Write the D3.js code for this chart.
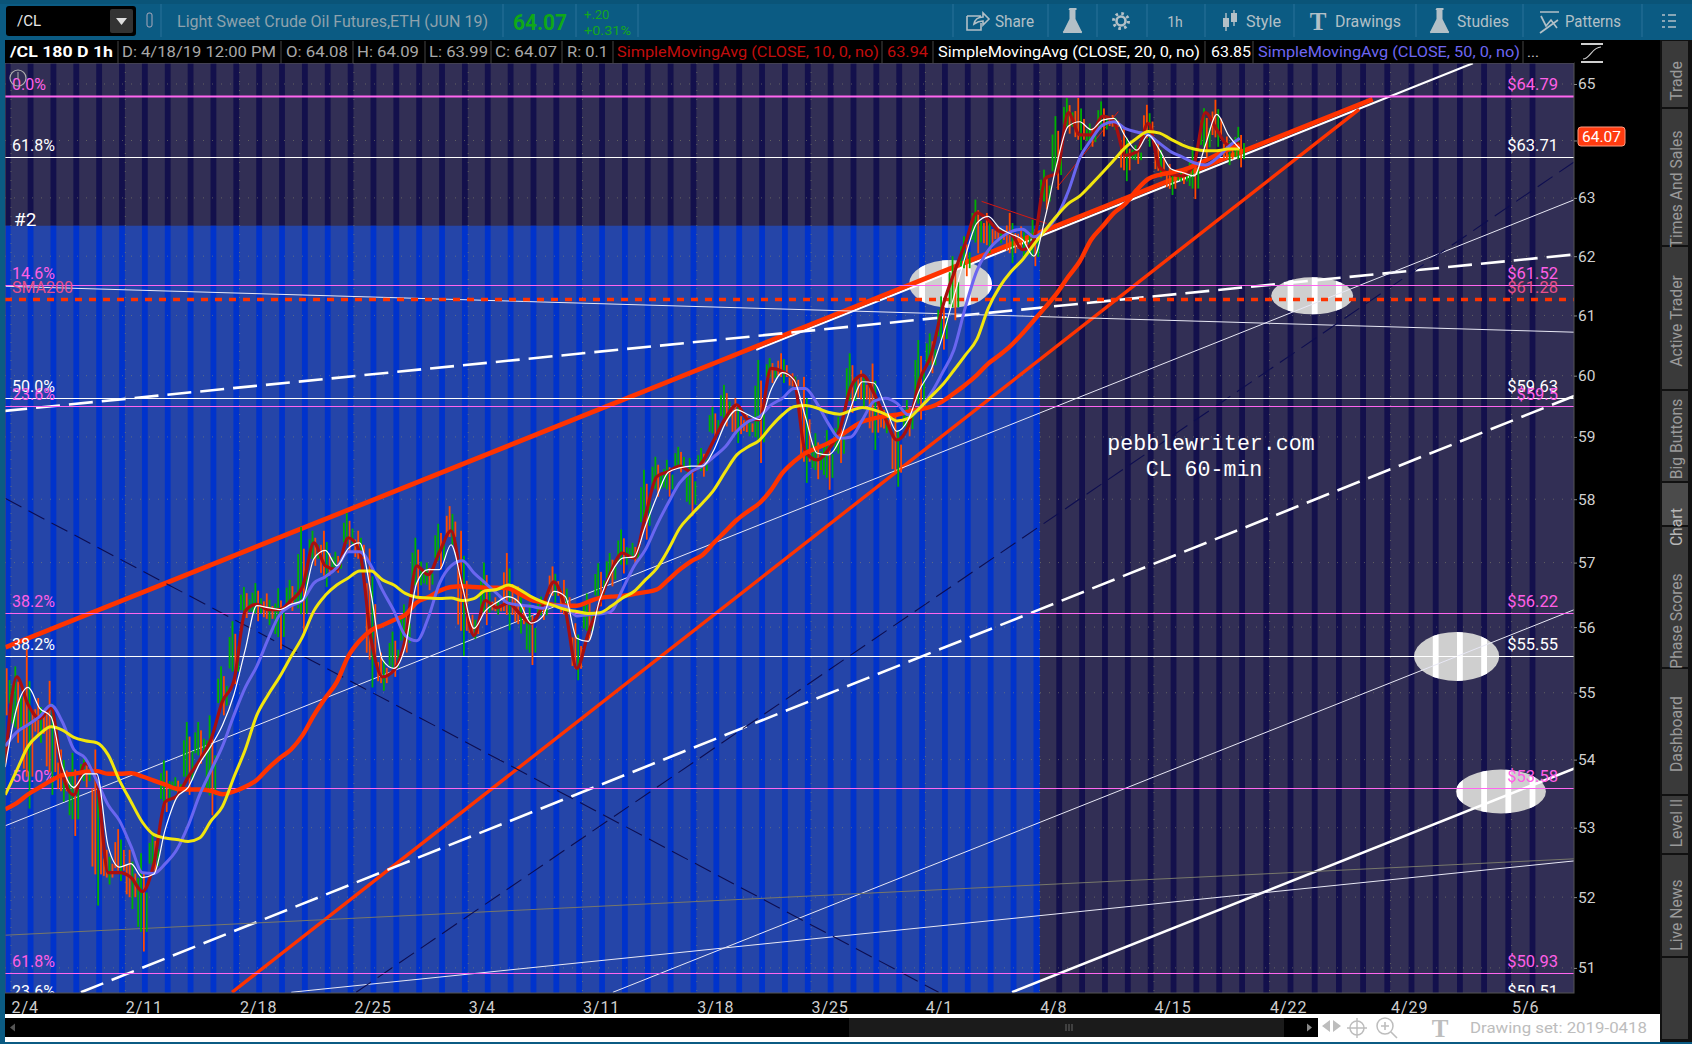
<!DOCTYPE html>
<html><head><meta charset="utf-8">
<script src="https://cdn.jsdelivr.net/npm/d3@7/dist/d3.min.js"></script>
<style>html,body{margin:0;padding:0;background:#000;overflow:hidden}svg{display:block}text{font-family:Roboto,"Open Sans",sans-serif}</style>
</head><body><div id="c"></div>
<script>
// ---------- data (half-session samples) ----------
const dateTicks=["2/4","2/11","2/18","2/25","3/4","3/11","3/18","3/25","4/1","4/8","4/15","4/22","4/29","5/6"];
const priceTicks=[51,52,53,54,55,56,57,58,59,60,61,62,63,64,65];
const levelPrices=[64.79,63.71,61.52,61.28,59.63,59.5,56.22,55.55,53.58,50.93,50.51];
const levelNames=["0.0%","61.8%","14.6%","SMA200","50.0%","23.6%","38.2%","38.2%","50.0%","61.8%","23.6%"];
const levelKinds=["m","w","m","r","w","m","m","w","m","m","w"];
const levelRight=["$64.79","$63.71","$61.52","$61.28","$59.63","$59.5","$56.22","$55.55","$53.58","$50.93","$50.51"];

const barHigh=[55.55,55.4,55.66,54.92,55.18,54.15,54.1,54.05,54.15,52.68,52.98,52.68,52.63,52.93,53.99,53.74,54.56,54.56,54.66,55.4,56.09,56.62,56.68,56.52,56.6,56.73,57.56,57.5,57.5,57.17,57.78,57.5,57.22,55.61,55.93,56.35,57.39,57,57.61,57.89,57.5,56.19,57,56.46,
57.15,56.63,56.37,56.47,56.94,56.73,56.06,56.52,56.99,57.15,57.52,57.31,58.47,58.68,58.63,58.84,58.66,58.82,59.49,59.85,59.63,59.36,60.26,60.29,60.37,60.04,59.98,59.06,59.11,59.33,60.37,60.09,60.2,59.44,59.33,59.6,60.59,60.7,
61.32,62,62.34,62.97,62.74,62.51,62.74,62.51,62.62,63.49,64.43,64.75,64.75,64.3,64.69,64.45,64.24,63.92,64.63,63.95,63.59,63.47,63.89,64.57,64.72,64.07,64.24];
const barLow=[54.66,54.25,53.28,54.25,53.48,53.38,52.88,53.59,51.88,52.18,52.23,51.83,51.23,52.33,53.23,53.48,53.48,53.94,53.18,54.66,55.13,56.14,56.09,56.03,55.66,56.25,55.87,56.95,56.62,56.84,57.17,56.95,55.08,55.03,55.24,55.61,56.46,56.57,56.89,57.28,55.56,55.82,56.03,56.19,
55.95,55.9,55.42,56.11,56.37,56.06,55.19,55.8,56.32,56.63,56.83,56.99,57.36,58.04,58.04,58.43,57.73,58.36,58.95,59.17,58.9,59.01,58.58,59.88,59.88,59.77,58.26,58.32,58.15,58.58,59.39,59.49,58.79,59.06,58.2,59.01,59.28,60.04,
60.43,60.92,61.66,62.05,62.05,62.22,61.88,62,61.83,62.8,63.14,64.12,63.83,63.89,64.07,64.19,63.29,63.59,63.89,63.35,63.05,63.24,62.98,63.71,63.89,63.57,63.53];

const smaDarkRed=[53.95,55.24,54.82,54.61,54.77,53.79,53.48,53.94,53.69,52.35,52.35,52.28,52.08,52.48,53.38,53.46,53.74,53.99,54.3,54.87,55.18,56.25,56.35,56.27,56.27,56.41,56.62,57.31,56.95,56.89,57.39,57.17,55.82,55.24,55.34,55.82,56.95,56.81,57.17,57.5,56.62,55.87,56.41,56.3,
56.37,56.21,56.06,56.32,56.7,56.26,55.37,55.9,56.37,56.86,57.15,57.07,57.73,58.36,58.44,58.53,58.44,58.6,58.95,59.3,59.52,59.28,59.28,60.12,60.07,59.93,58.76,58.63,58.79,59.11,59.82,60.01,59.71,59.3,58.95,59.17,59.93,60.34,
61.14,61.71,62.22,62.74,62.62,62.42,62.38,62.11,62.28,63.34,63.43,64.49,64.1,64.1,64.43,64.33,63.74,63.8,64.3,63.53,63.41,63.38,63.59,64.49,64.19,63.92,63.95];
const smaWhite=[53.89,54.77,55.08,54.77,54.64,53.89,53.59,53.79,53.79,52.73,52.43,52.48,52.28,52.33,52.98,53.44,53.59,53.94,54.2,54.51,54.97,55.66,56.33,56.3,56.27,56.35,56.41,57.06,57.19,56.95,57.22,57.31,56.52,55.5,55.37,55.71,56.68,56.89,56.89,57.28,56.62,55.98,56.25,56.38,
56.47,56.37,56.06,56.16,56.55,56.47,55.83,55.78,56.42,56.83,57.07,57.09,57.57,58.04,58.43,58.5,58.53,58.53,58.79,59.22,59.44,59.36,59.28,59.77,60.05,59.93,59.33,58.74,58.71,58.95,59.49,59.9,59.88,59.49,59.09,59.28,59.77,60.1,
60.65,61.32,62,62.56,62.68,62.48,62.38,62.28,62,62.68,63.59,64.25,64.33,64.19,64.36,64.39,64.07,63.83,64.1,63.83,63.5,63.44,63.38,63.92,64.46,64.1,63.86];
const smaPurple=[54.2,54.41,54.52,54.64,54.81,54.56,54.15,54.02,53.69,53.33,53.1,52.73,52.35,52.34,52.48,52.68,53.03,53.48,53.84,54.2,54.66,55.08,55.4,55.82,56.19,56.33,56.41,56.68,56.78,56.92,57.17,57.17,56.95,56.57,56.25,55.87,55.79,56.14,56.68,56.95,57.03,56.84,56.68,56.52,
56.37,56.34,56.32,56.29,56.34,56.32,56.17,56.19,56.2,56.24,56.58,56.94,57.2,57.59,57.94,58.26,58.44,58.53,58.68,58.84,59.09,59.25,59.33,59.52,59.63,59.79,59.79,59.55,59.22,58.98,59,59.28,59.58,59.63,59.55,59.36,59.47,59.71,
60.05,60.43,61.14,61.75,62.1,62.3,62.42,62.46,62.33,62.45,62.68,63.11,63.69,64.01,64.27,64.33,64.21,64.15,64.1,63.95,63.8,63.71,63.61,63.57,63.69,63.89,64.04];
const smaYellow=[53.48,53.84,54.2,54.38,54.49,54.44,54.33,54.28,54.25,54.07,53.69,53.38,53.08,52.9,52.85,52.83,52.8,52.85,53.1,53.31,53.74,54.15,54.66,54.97,55.24,55.55,55.85,56.25,56.49,56.65,56.76,56.87,56.87,56.73,56.65,56.52,56.46,56.45,56.44,56.45,56.41,56.44,56.56,56.58,
56.65,56.58,56.47,56.39,56.33,56.27,56.24,56.21,56.22,56.32,56.45,56.55,56.73,56.91,57.2,57.54,57.75,57.94,58.15,58.44,58.71,58.84,58.95,59.17,59.36,59.49,59.51,59.47,59.4,59.37,59.43,59.48,59.44,59.37,59.26,59.3,59.47,59.66,
59.85,60.09,60.34,60.6,61.12,61.48,61.74,61.94,62.2,62.45,62.69,62.9,63.03,63.23,63.44,63.66,63.88,64.04,64.16,64.13,64.02,63.92,63.85,63.82,63.82,63.85,63.85];
const smaSlowRed=[53.27,53.36,53.49,53.59,53.69,53.77,53.79,53.82,53.83,53.79,53.79,53.8,53.75,53.69,53.63,53.57,53.56,53.56,53.54,53.49,53.53,53.6,53.7,53.87,54.02,54.15,54.36,54.66,54.92,55.16,55.55,55.79,55.95,56.03,56.11,56.19,56.38,56.46,56.56,56.62,56.63,56.62,56.61,56.61,
56.6,56.51,56.42,56.38,56.34,56.33,56.33,56.39,56.45,56.47,56.48,56.51,56.54,56.58,56.73,56.89,57.02,57.12,57.31,57.49,57.67,57.81,57.94,58.15,58.42,58.6,58.74,58.82,58.9,59.01,59.14,59.25,59.3,59.34,59.36,59.41,59.45,59.49,
59.58,59.71,59.85,60.01,60.2,60.34,60.5,60.7,60.92,61.14,61.37,61.65,61.91,62.28,62.51,62.74,62.9,63.14,63.33,63.4,63.44,63.48,63.56,63.65,63.75,63.84,63.92];

// trend lines: session/price end points
const trendFrom=[[32.6,60.43],[-0.24,55.69],[9.67,50.66],[-0.34,59.42],[3.06,50.66],[-0.24,53.03],[26.33,50.66],[43.79,50.66],[-0.24,61.49],[12.26,50.66],[-0.24,51.46],[-0.24,58.01],[15.1,50.66],[42.46,62.94],[45.74,63.17]];
const trendTo=[[63.4,65.37],[59.26,64.73],[58.7,64.55],[67.6,62.03],[67.6,59.67],[67.6,62.97],[67.6,56.27],[67.6,53.87],[67.6,60.72],[67.6,52.52],[67.6,52.55],[40.58,50.66],[67.6,63.63],[45.3,62.56],[48.44,64.51]];
const trendKinds=["white","red","redThin","dash","dash","thin","thin","thick","thin","thin","grey","navy","navy","hair","hair"];

const ovalCentres=[[41.1,61.53],[56.76,61.33],[62.73,55.55],[64.56,53.53]];
const sideTabs=["Trade","Times And Sales","Active Trader","Big Buttons","Chart","Phase Scores","Dashboard","Level II","Live News"];

// ---------- scales ----------
const W=1692,H=1044,L=5,R=1574,T=63,B=993;
const x=d3.scaleLinear().domain([0,54,68]).range([11,1245.4,1584.2]);
const y=d3.scaleLog().domain([65,51]).range([84,967.9]);
const sess=i=>i*0.5-0.25;
const svg=d3.select("#c").append("svg").attr("width",W).attr("height",H).attr("viewBox",`0 0 ${W} ${H}`);
const defs=svg.append("defs");
defs.append("clipPath").attr("id","plot").append("rect").attr("x",L).attr("y",T).attr("width",R-L).attr("height",B-T);
const rect=(g,a,b,w,h,f)=>g.append("rect").attr("x",a).attr("y",b).attr("width",w).attr("height",h).attr("fill",f);
const txt=(g,a,b,s,c,fs,o={})=>{const t=g.append("text").attr("x",a).attr("y",b).text(s).attr("fill",c).attr("font-size",fs);
  if(o.w)t.attr("textLength",o.w).attr("lengthAdjust","spacingAndGlyphs");if(o.anchor)t.attr("text-anchor",o.anchor);if(o.bold)t.attr("font-weight",700);if(o.family)t.style("font-family",o.family);return t;};

rect(svg,0,0,W,H,"#000");
// ---------- plot ----------
const plot=svg.append("g").attr("clip-path","url(#plot)");
rect(plot,L,T,R-L,B-T,"#322f55");
const stripeIdx=d3.range(0,67);
plot.selectAll(".st").data(stripeIdx).join("rect").attr("x",k=>x(k)-6.2).attr("y",T).attr("width",5.8).attr("height",B-T).attr("fill","#13104c");
const blueEnd=x(45),blueTop=y(62.52);
rect(plot,L,blueTop,blueEnd-L,B-blueTop,"#2545a8");
plot.selectAll(".sb").data(stripeIdx.filter(k=>k<45)).join("rect").attr("x",k=>x(k)-6.2).attr("y",blueTop).attr("width",5.8).attr("height",B-blueTop).attr("fill","#0033cc");
plot.append("rect").attr("x",x(45)-6.2).attr("y",blueTop).attr("width",6.2).attr("height",B-blueTop).attr("fill","#0033cc");

// dotted grid
plot.selectAll(".gh").data(priceTicks).join("line").attr("x1",L).attr("x2",R).attr("y1",d=>y(d)).attr("y2",d=>y(d)).attr("stroke","#8a8a70").attr("stroke-width",1).attr("stroke-dasharray","1 8").attr("opacity",.55);
plot.selectAll(".gv").data(dateTicks).join("line").attr("x1",(d,i)=>x(i*5)).attr("x2",(d,i)=>x(i*5)).attr("y1",T).attr("y2",B).attr("stroke","#8a8a70").attr("stroke-dasharray","1 8").attr("opacity",.55);

// ovals
const ovalR=[[41.5,24],[41,18.5],[42.5,24.5],[45,22]];
ovalCentres.forEach((c,i)=>{
  const id="ov"+i,cx=x(c[0]),cy=y(c[1]);
  defs.append("clipPath").attr("id",id).append("ellipse").attr("cx",cx).attr("cy",cy).attr("rx",ovalR[i][0]).attr("ry",ovalR[i][1]);
  plot.append("ellipse").attr("cx",cx).attr("cy",cy).attr("rx",ovalR[i][0]).attr("ry",ovalR[i][1]).attr("fill","#cfcfcf");
  plot.append("g").attr("clip-path",`url(#${id})`).selectAll("rect").data(stripeIdx).join("rect").attr("x",k=>x(k)-6.2).attr("y",cy-30).attr("width",5.8).attr("height",60).attr("fill","#fff");
});

// trend lines
const tStyle={red:["#ff3300",4.8,null],white:["#ffffff",2.2,null],redThin:["#ff3300",3.4,null],dash:["#ffffff",2.6,"24 9"],thin:["#e8e8f5",1,null],thick:["#ffffff",2.6,null],grey:["#77776a",1,null],navy:["#0d0d50",1.1,"18 8"],hair:["#d81a10",1,null]};
plot.selectAll(".tr").data(d3.range(trendKinds.length)).join("line")
 .attr("x1",i=>x(trendFrom[i][0])).attr("y1",i=>y(trendFrom[i][1])).attr("x2",i=>x(trendTo[i][0])).attr("y2",i=>y(trendTo[i][1]))
 .attr("stroke",i=>tStyle[trendKinds[i]][0]).attr("stroke-width",i=>tStyle[trendKinds[i]][1]).attr("stroke-dasharray",i=>tStyle[trendKinds[i]][2]);

// price levels
const lvCol={m:"#ff66f0",w:"#ffffff",r:"#ff3300"};
const txtCol={m:"#ff5fe6",w:"#ffffff",r:"#e8508a"};
plot.selectAll(".lv").data(levelPrices).join("line").attr("x1",L).attr("x2",R).attr("y1",d=>Math.round(y(d))+.5).attr("y2",d=>Math.round(y(d))+.5)
 .attr("stroke",(d,i)=>lvCol[levelKinds[i]]).attr("stroke-width",(d,i)=>i===0?2:levelKinds[i]==="r"?3.4:1).attr("stroke-dasharray",(d,i)=>levelKinds[i]==="r"?"7 7":null);
plot.selectAll(".ll").data(levelPrices).join("text").attr("x",12).attr("y",d=>y(d)-6).text((d,i)=>levelNames[i]).attr("fill",(d,i)=>txtCol[levelKinds[i]]).attr("font-size",16);
plot.selectAll(".lr").data(levelPrices).join("text").attr("x",1558).attr("y",d=>y(d)-6).attr("text-anchor","end").text((d,i)=>levelRight[i]).attr("fill",(d,i)=>txtCol[levelKinds[i]]).attr("font-size",16.5);
txt(plot,14,226,"#2","#fff",19);

// price bars: thin sticks per half session
const barIdx=d3.range(barHigh.length);
const isUp=i=>smaDarkRed[Math.min(i+1,smaDarkRed.length-1)]>=smaDarkRed[Math.max(i-1,0)];
const GREEN="#00b000",ORANGE="#ff4a00";
const sticks=[{o:-4.3,a:.25,b:.75,alt:false},{o:-1.4,a:0,b:.8,alt:false},{o:1.4,a:.2,b:1,alt:true},{o:4.3,a:.4,b:.8,alt:false}];
sticks.forEach(st=>{
  plot.selectAll(null).data(barIdx).join("rect").attr("x",i=>x(sess(i))+st.o-.9).attr("width",1.8)
   .attr("y",i=>{const t=y(barHigh[i]),b=y(barLow[i]);return t+(b-t)*st.a;})
   .attr("height",i=>{const t=y(barHigh[i]),b=y(barLow[i]);return (b-t)*(st.b-st.a);})
   .attr("fill",i=>(isUp(i)!==st.alt)?GREEN:ORANGE);
});

// moving averages
const maLine=d3.line().x((d,i)=>x(sess(i))).y(d=>y(d)).curve(d3.curveMonotoneX);
[[smaDarkRed,"#a80f0f",3.2],[smaSlowRed,"#ff3300",4.4],[smaPurple,"#6a66f0",3],[smaYellow,"#f2e60d",3],[smaWhite,"#ffffff",1.2]].forEach(([s,c,w])=>{
  plot.append("path").attr("d",maLine(s)).attr("fill","none").attr("stroke",c).attr("stroke-width",w).attr("stroke-linejoin","round");
});

// annotation
const mono='"Liberation Mono",monospace';
txt(plot,1211,450,"pebblewriter.com","#fff",21.6,{anchor:"middle",family:mono});
txt(plot,1204,476,"CL 60-min","#fff",21.6,{anchor:"middle",family:mono});
plot.append("circle").attr("cx",18).attr("cy",78).attr("r",8).attr("fill","none").attr("stroke","#b0b0b0").attr("stroke-width",1.2);
plot.append("line").attr("x1",18).attr("x2",18).attr("y1",72).attr("y2",79).attr("stroke","#b0b0b0");

// frame
svg.append("rect").attr("x",L).attr("y",T).attr("width",R-L).attr("height",B-T).attr("fill","none").attr("stroke","#555").attr("stroke-width",1);

// ---------- axes ----------
const axR=svg.append("g").attr("transform",`translate(${R},0)`).call(d3.axisRight(y).tickValues(priceTicks).tickFormat(d3.format("d")).tickSize(3));
axR.select(".domain").remove();
axR.selectAll("text").attr("fill","#d0d0d0").attr("font-size",15.5).attr("x",4).attr("text-anchor","start").style("font-family","Roboto");
axR.selectAll("line").attr("stroke","#888");
const axB=svg.append("g").attr("transform",`translate(0,${B})`).call(d3.axisBottom(x).tickValues(dateTicks.map((d,i)=>i*5)).tickFormat((d,i)=>dateTicks[i]).tickSize(0));
axB.select(".domain").remove();
axB.selectAll("text").attr("fill","#cfcfcf").attr("font-size",16).attr("letter-spacing","0.9px").attr("text-anchor","start").attr("y",6).attr("dy","0.85em").style("font-family","Roboto");

// price badge
svg.append("rect").attr("x",1578).attr("y",127).attr("width",47).attr("height",19).attr("rx",3).attr("fill","#ff3b10").attr("stroke","#ff9a80");
txt(svg,1601.5,142,"64.07","#fff",15.5,{anchor:"middle"});
// studies icon
const sg=svg.append("g").attr("stroke","#cfcfcf").attr("fill","none");
sg.append("path").attr("d","M1581 44h22M1581 62h22").attr("stroke-width",2.2);
sg.append("path").attr("d","M1583 59C1590 59 1592 47 1601 47").attr("stroke-width",1.2);

// ---------- toolbar ----------
const tb=svg.append("g");
rect(tb,0,0,W,40,"#0b5b83");
rect(tb,0,0,W,4,"#0a5478");
rect(svg,0,40,5,H-40,"#0b5b83");
rect(svg,0,H-2,W,2,"#0b5b83");
tb.append("rect").attr("x",6).attr("y",6).attr("width",130).attr("height",30).attr("rx",3).attr("fill","#000");
txt(tb,17,26,"/CL","#e8e8e8",15);
tb.append("rect").attr("x",110).attr("y",9).attr("width",23).attr("height",24).attr("rx",2).attr("fill","#333");
tb.append("path").attr("d","M116 18h11l-5.5 7z").attr("fill","#ddd");
tb.append("rect").attr("x",147).attr("y",13).attr("width",5).attr("height",14).attr("rx",2).attr("fill","none").attr("stroke","#aab");
[161,503,576,638,953,1048,1097,1147,1205,1294,1416,1523,1642].forEach(a=>tb.append("line").attr("x1",a).attr("x2",a).attr("y1",4).attr("y2",37).attr("stroke","#2a7399"));
txt(tb,177,27,"Light Sweet Crude Oil Futures,ETH (JUN 19)","#8ea2ad",16,{w:311});
txt(tb,513,30,"64.07","#10a818",22,{bold:true,w:54});
txt(tb,584,19,"+.20","#14a81e",13);
txt(tb,584,35,"+0.31%","#14a81e",13,{w:47});
const G="#b3c0c7";
[["Share",995,39],["Style",1246,35],["Drawings",1335,66],["Studies",1457,52],["Patterns",1565,56]].forEach(([s,a,w])=>txt(tb,a,27,s,G,16,{w}));
txt(tb,1175,27,"1h",G,14,{anchor:"middle"});
tb.append("path").attr("d","M967 16h14M967 16v14h14v-7M974 24c1-5 5-7 9-7v-4l6 6-6 6v-4c-4 0-6 1-9 3z").attr("fill","none").attr("stroke",G).attr("stroke-width",1.6);
const flask=a=>tb.append("path").attr("d",`M${a-3.5} 8h7v2h-1v9l6 12a1 1 0 0 1-1 2h-16a1 1 0 0 1-1-2l6-12v-9h-1z`).attr("fill",G);
flask(1073);flask(1440);
tb.append("circle").attr("cx",1121).attr("cy",21).attr("r",7.5).attr("fill","none").attr("stroke",G).attr("stroke-width",3).attr("stroke-dasharray","2.6 3.3");
tb.append("circle").attr("cx",1121).attr("cy",21).attr("r",4.5).attr("fill","none").attr("stroke",G).attr("stroke-width",2.6);
tb.append("path").attr("d","M1226 13v18M1234 10v16").attr("stroke",G).attr("stroke-width",1.4);
tb.append("rect").attr("x",1223).attr("y",18).attr("width",6).attr("height",9).attr("fill",G);
tb.append("rect").attr("x",1231).attr("y",13).attr("width",6).attr("height",9).attr("fill",G);
txt(tb,1318,30,"T",G,25,{anchor:"middle",bold:true,family:'"Liberation Serif",serif'});
tb.append("path").attr("d","M1540 12h19M1541 16l5 10 5-6 6 8M1540 33l18-13").attr("fill","none").attr("stroke",G).attr("stroke-width",1.7);
tb.append("path").attr("d","M1662 15h3M1668 15h8M1662 21h3M1668 21h8M1662 27h3M1668 27h8").attr("stroke",G).attr("stroke-width",1.7);

// ---------- header row ----------
const hr=svg.append("g");
rect(hr,5,40,R-5,23,"#000");
txt(hr,10,57,"/CL 180 D 1h","#fff",15.5,{bold:true,w:103});
[["D: 4/18/19 12:00 PM",122,154],["O: 64.08",286,62],["H: 64.09",357,62],["L: 63.99",429,59],["C: 64.07",495,62],["R: 0.1",567,41]].forEach(([s,a,w])=>txt(hr,a,57,s,"#a8a8a8",15,{w}));
[118,281,353,425,491,562,613,882,933,1205,1253,1523].forEach(a=>hr.append("line").attr("x1",a).attr("x2",a).attr("y1",41).attr("y2",63).attr("stroke","#444"));
txt(hr,617,57,"SimpleMovingAvg (CLOSE, 10, 0, no)","#c00d0d",15,{w:262});
txt(hr,887,57,"63.94","#c00d0d",15,{w:41});
txt(hr,938,57,"SimpleMovingAvg (CLOSE, 20, 0, no)","#fff",15,{w:262});
txt(hr,1211,57,"63.85","#fff",15,{w:40});
txt(hr,1258,57,"SimpleMovingAvg (CLOSE, 50, 0, no)","#6d66f2",15,{w:262});
txt(hr,1527,57,"...","#ccc",15);

// ---------- bottom bars ----------
const bt=svg.append("g");
rect(bt,5,1014,1655,6,"#fff");
rect(bt,5,1020,1655,22,"#fff");
rect(bt,5,1018,1313,19,"#000");
rect(bt,849,1018,435,19,"#1b1b1b");
bt.append("path").attr("d","M1066 1024v7M1069 1024v7M1072 1024v7").attr("stroke","#666");
bt.append("path").attr("d","M10 1027.5l5-4v8z").attr("fill","#555");
bt.append("path").attr("d","M1312 1027.5l-5-4v8z").attr("fill","#888");
const B2="#bdbdbd";
bt.append("path").attr("d","M1322 1026l8-6v12zM1341 1026l-8-6v12z").attr("fill",B2);
bt.append("circle").attr("cx",1357).attr("cy",1028).attr("r",7).attr("fill","none").attr("stroke",B2).attr("stroke-width",1.5);
bt.append("path").attr("d","M1357 1018v20M1347 1028h20").attr("stroke",B2).attr("stroke-width",1.4);
bt.append("circle").attr("cx",1385).attr("cy",1026).attr("r",8).attr("fill","none").attr("stroke",B2).attr("stroke-width",1.5);
bt.append("path").attr("d","M1391 1032l6 6M1381 1026h8M1385 1022v8").attr("stroke",B2).attr("stroke-width",1.6);
txt(bt,1440,1037,"T",B2,25,{anchor:"middle",bold:true,family:'"Liberation Serif",serif'});
txt(bt,1470,1033,"Drawing set: 2019-0418","#bdbdbd",15.5,{w:177});

// ---------- side tabs ----------
const sd=svg.append("g");
rect(sd,1660,40,32,H-42,"#111");
const tabEdges=[40,108,246,390,482,526,668,795,854,957,1040];
const tabTexts=[81,189,321,439,527,621,734,823,915];
tabEdges.slice(0,-1).forEach((e,i)=>{
  const chart=(i===4);
  rect(sd,1662,e+1,26,tabEdges[i+1]-e-2,chart?"#4b4b4b":"#3a3a3a");
});
sideTabs.forEach((s,i)=>{
  sd.append("text").attr("transform",`translate(1682,${tabTexts[i]}) rotate(-90)`).attr("text-anchor","middle").text(s).attr("fill",i===4?"#b8b8b8":"#9a9a9a").attr("font-size",15.7);
});
</script></body></html>
